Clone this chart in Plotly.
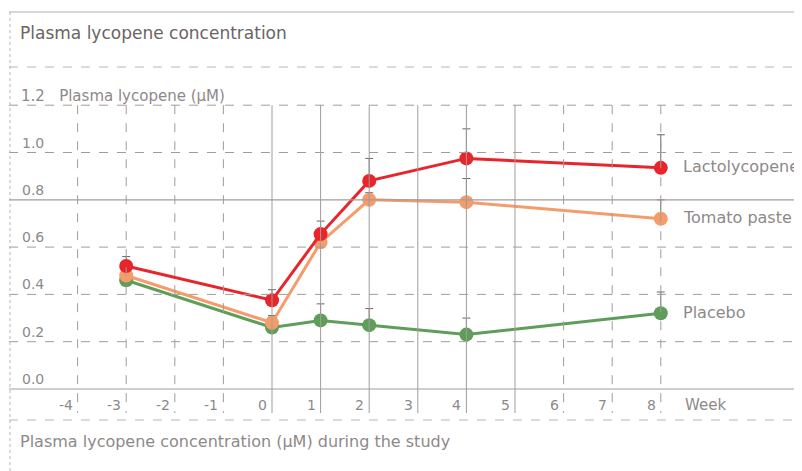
import plotly.graph_objects as go

weeks = [-3, 0, 1, 2, 4, 8]
lacto = [0.52, 0.375, 0.655, 0.88, 0.975, 0.935]
lacto_err = [0.04, 0.045, 0.055, 0.095, 0.125, 0.14]
tomato = [0.48, 0.28, 0.62, 0.80, 0.79, 0.72]
tomato_err = [0.03, 0.03, 0.04, 0.03, 0.10, 0.08]
placebo = [0.46, 0.26, 0.29, 0.27, 0.23, 0.32]
placebo_err = [0.02, 0.05, 0.07, 0.07, 0.07, 0.09]

x_ticks = [-4, -3, -2, -1, 0, 1, 2, 3, 4, 5, 6, 7, 8]
x_solid = [0, 1, 2, 3, 4, 5]
y_ticks = [0.0, 0.2, 0.4, 0.6, 0.8, 1.0]
y_solid = [0.0, 0.8]

series_names = ["Placebo", "Tomato paste", "Lactolycopene"]
series_colors = ["#5e9e5a", "#f59c6c", "#e8252a"]

OFF = 8  # page body margin
W, H = 802 - OFF, 471 - OFF
px_per_x = 48.6
x0_px = 272 - OFF
px_per_y = 236.5
y0_px = 389 - OFF

x_min = -x0_px / px_per_x
x_max = (W - x0_px) / px_per_x
y_max = y0_px / px_per_y
y_min = -(H - y0_px) / px_per_y


def ypx(p):
    """reference-image pixel row -> data y"""
    return (y0_px - (p - OFF)) / px_per_y


def xpx(p):
    """reference-image pixel column -> data x"""
    return ((p - OFF) - x0_px) / px_per_x


fig = go.Figure()

grid_col = "#a39b9b"
text_col = "#8e8989"
font_family = "DejaVu Sans, sans-serif"
fs = 16
tick_fs = 14

shapes = []
left_paper = max(0, (9 - OFF) / W)
for v in y_ticks + [1.2]:
    shapes.append(dict(type="line", xref="paper", yref="y", x0=left_paper, x1=1, y0=v, y1=v,
                       line=dict(color=grid_col, width=1.2 if v in y_solid else 1,
                                 dash="solid" if v in y_solid else "dash")))
for t in x_ticks:
    shapes.append(dict(type="line", xref="x", yref="y", x0=t, x1=t, y0=1.2, y1=ypx(413),
                       line=dict(color=grid_col, width=1,
                                 dash="solid" if t in x_solid else "dash")))
shapes.append(dict(type="line", xref="paper", yref="y", x0=left_paper, x1=1, y0=ypx(12), y1=ypx(12),
                   line=dict(color="#cfc8c8", width=1.5)))
shapes.append(dict(type="line", xref="paper", yref="y", x0=left_paper, x1=1, y0=ypx(67), y1=ypx(67),
                   line=dict(color="#bdb5b5", width=1, dash="dash")))
shapes.append(dict(type="line", xref="paper", yref="y", x0=left_paper, x1=1, y0=ypx(420), y1=ypx(420),
                   line=dict(color="#bdb5b5", width=1, dash="dash")))
shapes.append(dict(type="line", xref="x", yref="y", x0=xpx(10), x1=xpx(10), y0=ypx(12), y1=ypx(471),
                   line=dict(color="#bdb5b5", width=1, dash="dot")))

data = [(placebo, placebo_err), (tomato, tomato_err), (lacto, lacto_err)]
for (vals, err), name, col in zip(data, series_names, series_colors):
    fig.add_trace(go.Scatter(
        x=weeks, y=vals, mode="lines+markers", name=name,
        line=dict(color=col, width=3),
        marker=dict(color=col, size=14),
        error_y=dict(type="data", array=err, arrayminus=[0] * len(err), symmetric=False,
                     color="#6e6868", thickness=1, width=4),
        showlegend=False))


def txt(x, y, s, size=fs, color=text_col, anchor="left"):
    return dict(x=x, y=y, xref="x", yref="y", text=s, showarrow=False,
                xanchor=anchor, yanchor="middle",
                font=dict(size=size, color=color, family=font_family))


annotations = []
for v in y_ticks:
    annotations.append(txt(xpx(20), v + 0.042, f"{v:.1f}", size=tick_fs))
for t in x_ticks:
    annotations.append(txt(t - 3 / px_per_x, ypx(405), str(t), size=tick_fs, anchor="right"))
annotations.append(txt(xpx(683), ypx(405), "Week", size=tick_fs + 1))
for vals, name in zip([lacto, tomato, placebo], ["Lactolycopene", "Tomato paste", "Placebo"]):
    annotations.append(txt(xpx(681), vals[-1] + 0.005, name))
annotations.append(txt(xpx(19), ypx(96), "1.2&nbsp;&nbsp;&nbsp;Plasma lycopene (µM)", size=15))
annotations.append(txt(xpx(18), ypx(33), "Plasma lycopene concentration", size=17, color="#6a6464"))
annotations.append(txt(xpx(18), ypx(441), "Plasma lycopene concentration (µM) during the study", size=16))

fig.update_layout(
    width=W, height=H,
    margin=dict(l=0, r=0, t=0, b=0),
    paper_bgcolor="white", plot_bgcolor="white",
    xaxis=dict(range=[x_min, x_max], visible=False, fixedrange=True),
    yaxis=dict(range=[y_min, y_max], visible=False, fixedrange=True),
    shapes=shapes, annotations=annotations,
)

fig.write_html("out.html")
